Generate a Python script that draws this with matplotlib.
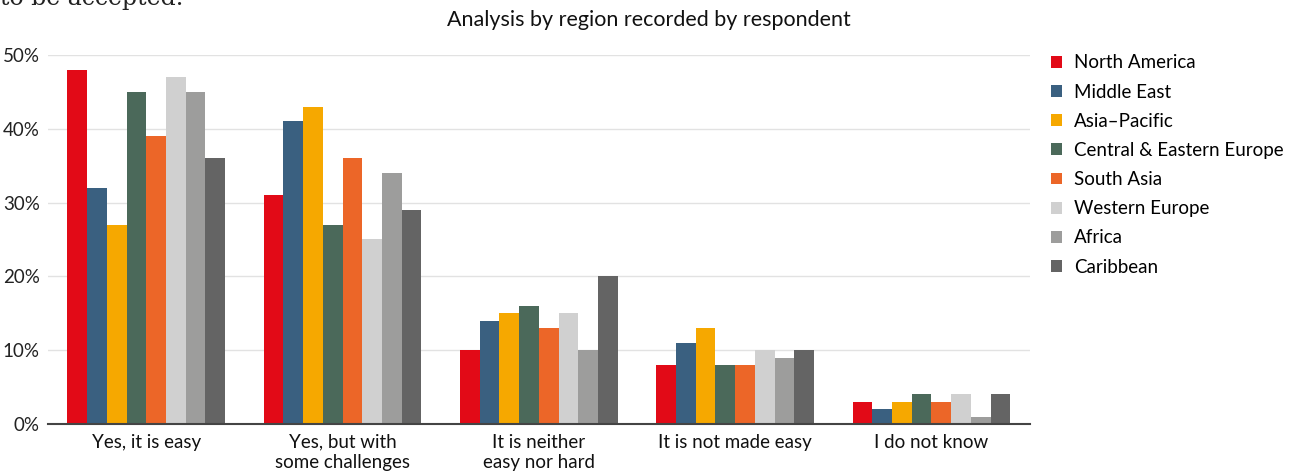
import matplotlib.pyplot as plt
import numpy as np

categories = ['Yes, it is easy', 'Yes, but with\nsome challenges', 'It is neither\neasy nor hard',
              'It is not made easy', 'I do not know']
regions = ['North America', 'Middle East', 'Asia\u2013Pacific', 'Central & Eastern Europe',
           'South Asia', 'Western Europe', 'Africa', 'Caribbean']
colors = ['#e20a17', '#3a6080', '#f6a800', '#4b695a', '#ec6628', '#d0d0d0', '#9d9d9c', '#646464']

north_america = [48, 31, 10, 8, 3]
middle_east = [32, 41, 14, 11, 2]
asia_pacific = [27, 43, 15, 13, 3]
central_eastern_europe = [45, 27, 16, 8, 4]
south_asia = [39, 36, 13, 8, 3]
western_europe = [47, 25, 15, 10, 4]
africa = [45, 34, 10, 9, 1]
caribbean = [36, 29, 20, 10, 4]

series = [north_america, middle_east, asia_pacific, central_eastern_europe,
          south_asia, western_europe, africa, caribbean]

plt.rcParams['font.family'] = ['Lato', 'DejaVu Sans']

fig = plt.figure(figsize=(13, 4.74), dpi=100)
ax = fig.add_axes([0.037, 0.1055, 0.755, 0.7785])

x = np.arange(len(categories))
w = 0.1005
for i, (vals, name, c) in enumerate(zip(series, regions, colors)):
    ax.bar(x + (i - 3.5) * w, np.array(vals) / 100, w, color=c, label=name, zorder=2)

ax.set_xlim(-0.5, 4.5)
ax.set_ylim(0, 0.5)
ax.set_yticks(np.arange(0, 0.51, 0.1))
ax.set_yticklabels([f'{int(v)}%' for v in np.arange(0, 51, 10)])
ax.set_xticks(x)
ax.set_xticklabels(categories, fontsize=13.5, linespacing=1.2)
ax.tick_params(axis='y', length=0, labelsize=13.5, pad=6, colors='#222222')
ax.tick_params(axis='x', length=0, pad=7, colors='#111111')
ax.grid(axis='y', color='#e2e2e2', linewidth=1, zorder=0)
for s in ['top', 'right', 'left']:
    ax.spines[s].set_visible(False)
ax.spines['bottom'].set_color('#444444')
ax.spines['bottom'].set_linewidth(1.5)
ax.spines['bottom'].set_zorder(3)

fig.text(0.499, 1 - 20 / 474, 'Analysis by region recorded by respondent', ha='center', va='center',
         fontsize=15.5, color='#111111')
fig.text(0.0, 1 - 5 / 474, 'to be accepted.', ha='left', va='baseline',
         fontsize=17, family='DejaVu Serif', color='#222222')

ax.legend(loc='upper left', bbox_to_anchor=(1.014, 1.022), frameon=False, fontsize=13.5,
          handlelength=0.6, handleheight=0.6, handletextpad=0.65, labelspacing=0.65,
          borderaxespad=0)

fig.savefig('out.png', dpi=100)
